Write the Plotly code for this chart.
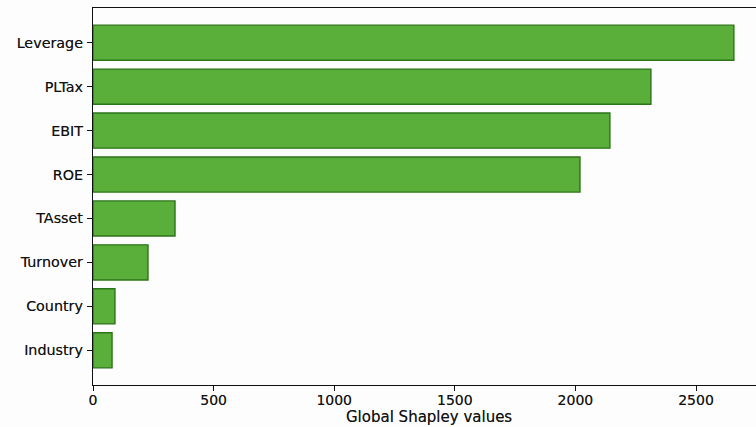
import plotly.graph_objects as go

# Global Shapley importance per feature (top to bottom)
features = ["Leverage", "PLTax", "EBIT", "ROE", "TAsset", "Turnover", "Country", "Industry"]
shapley = [2657, 2313, 2143, 2019, 340, 228, 91, 79]

# matplotlib-style limits: 5% padding past the longest bar
x_full = max(shapley) * 1.05
px_per_unit = 0.2412
plot_left = 93
width, height = 756, 427
x_visible = (width - plot_left) / px_per_unit

bottom_to_top = features[::-1]

ink = "#111111"
glow = "0px 0px 0.6px rgba(0,0,0,0.55)"

fig = go.Figure(
    go.Bar(
        y=features,
        x=shapley,
        orientation="h",
        width=0.8,
        marker=dict(color="#5aae3a", line=dict(color="#2c7419", width=1.4)),
    )
)

fig.update_layout(
    width=width,
    height=height,
    margin=dict(l=plot_left, r=0, t=8, b=42),
    paper_bgcolor="#fdfdfd",
    plot_bgcolor="#fdfdfd",
    font=dict(family="DejaVu Sans", size=14, color=ink),
    showlegend=False,
)

fig.update_xaxes(
    range=[0, x_visible],
    tickvals=[0, 500, 1000, 1500, 2000, 2500],
    ticks="outside",
    ticklen=5,
    tickwidth=1.2,
    tickcolor=ink,
    showline=True,
    linecolor=ink,
    linewidth=1.4,
    mirror=True,
    showgrid=False,
    zeroline=False,
    tickfont=dict(size=14, shadow=glow),
    ticklabelstandoff=-3,
)

fig.update_yaxes(
    categoryorder="array",
    categoryarray=bottom_to_top,
    range=[-0.79, len(features) - 1 + 0.79],
    ticks="outside",
    ticklen=5,
    tickwidth=1.2,
    tickcolor=ink,
    showline=True,
    linecolor=ink,
    linewidth=1.4,
    mirror=False,
    showgrid=False,
    zeroline=False,
    tickfont=dict(size=14.3, shadow=glow),
    ticklabelstandoff=1,
)

# axis title centred under the full (padded) axis span
fig.add_annotation(
    text="Global Shapley values",
    xref="x",
    yref="paper",
    x=x_full / 2,
    y=0,
    yshift=-32,
    showarrow=False,
    yanchor="middle",
    font=dict(size=15, shadow=glow),
)

fig.write_html("out.html")
